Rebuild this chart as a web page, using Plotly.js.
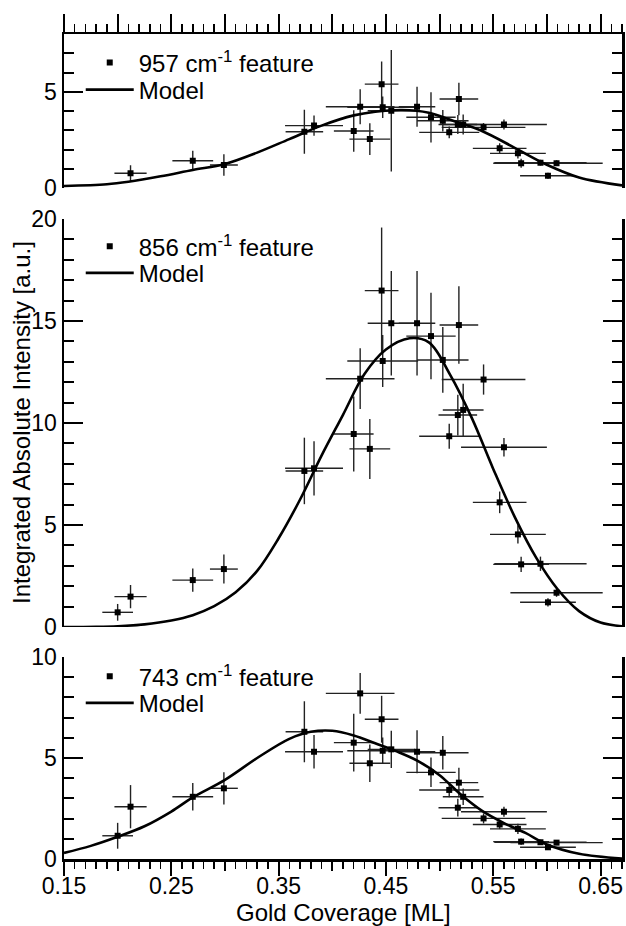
<!DOCTYPE html>
<html>
<head>
<meta charset="utf-8">
<script src="https://cdn.plot.ly/plotly-3.0.1.min.js"></script>
<style>html,body{margin:0;padding:0;background:#fff;}#chart{width:626px;height:926px;}</style>
</head>
<body>
<div id="chart"></div>
<script>
// ---------- data: 957 cm-1 feature (top panel) ----------
var x957 = [0.212, 0.270, 0.299, 0.374, 0.383, 0.420, 0.426, 0.435, 0.446, 0.447, 0.455, 0.479, 0.492, 0.503, 0.509, 0.518, 0.517, 0.522, 0.541, 0.556, 0.560, 0.573, 0.576, 0.594, 0.601, 0.609];
var xerr957 = [0.015, 0.019, 0.013, 0.0175, 0.027, 0.0185, 0.032, 0.019, 0.0157, 0.033, 0.022, 0.017, 0.023, 0.024, 0.028, 0.018, 0.018, 0.019, 0.039, 0.025, 0.040, 0.026, 0.026, 0.043, 0.026, 0.043];
var y957 = [0.78, 1.43, 1.21, 2.93, 3.25, 2.97, 4.23, 2.55, 5.40, 4.20, 4.02, 4.23, 3.68, 3.50, 2.90, 4.63, 3.31, 3.31, 3.16, 2.07, 3.31, 1.81, 1.30, 1.33, 0.65, 1.30];
var yerr957 = [0.41, 0.52, 0.56, 1.14, 0.52, 1.08, 0.91, 0.82, 1.17, 0.56, 3.15, 1.04, 1.30, 0.56, 0.30, 0.84, 0.49, 0.52, 0.22, 0.26, 0.26, 0.26, 0.23, 0.15, 0.15, 0.15];
var model957X = [0.15, 0.19, 0.21, 0.24, 0.27, 0.30, 0.33, 0.36, 0.39, 0.42, 0.44, 0.465, 0.49, 0.51, 0.54, 0.57, 0.60, 0.63, 0.67];
var model957Y = [0.12, 0.21, 0.34, 0.62, 0.95, 1.26, 1.85, 2.55, 3.25, 3.78, 3.97, 4.06, 3.92, 3.55, 2.96, 2.10, 1.22, 0.56, 0.15];

// ---------- data: 856 cm-1 feature (middle panel) ----------
var x856 = [0.200, 0.212, 0.270, 0.299, 0.374, 0.383, 0.420, 0.426, 0.435, 0.446, 0.447, 0.455, 0.479, 0.492, 0.503, 0.509, 0.518, 0.517, 0.522, 0.541, 0.556, 0.560, 0.573, 0.576, 0.594, 0.601, 0.609];
var xerr856 = [0.0143, 0.015, 0.019, 0.013, 0.0175, 0.027, 0.0185, 0.032, 0.019, 0.0157, 0.033, 0.022, 0.017, 0.023, 0.024, 0.028, 0.018, 0.018, 0.019, 0.039, 0.025, 0.040, 0.026, 0.026, 0.043, 0.026, 0.043];
var y856 = [0.72, 1.49, 2.30, 2.84, 7.65, 7.78, 9.46, 12.17, 8.73, 16.49, 13.04, 14.89, 14.89, 14.26, 13.09, 9.35, 14.80, 10.39, 10.64, 12.13, 6.11, 8.81, 4.54, 3.07, 3.10, 1.21, 1.68];
var yerr856 = [0.41, 0.57, 0.57, 0.71, 1.63, 1.33, 1.84, 1.49, 1.47, 3.09, 1.27, 2.56, 2.56, 2.12, 1.61, 0.61, 1.90, 1.00, 1.28, 0.74, 0.53, 0.45, 0.45, 0.37, 0.35, 0.20, 0.20];
var model856X = [0.15, 0.18, 0.20, 0.225, 0.25, 0.27, 0.29, 0.31, 0.33, 0.35, 0.37, 0.39, 0.41, 0.43, 0.45, 0.472, 0.49, 0.51, 0.53, 0.55, 0.57, 0.59, 0.61, 0.63, 0.65, 0.67];
var model856Y = [0.0, 0.01, 0.04, 0.13, 0.32, 0.58, 1.02, 1.70, 2.75, 4.35, 6.25, 8.40, 10.40, 12.40, 13.60, 14.15, 13.95, 12.35, 10.25, 7.75, 5.40, 3.40, 1.85, 0.78, 0.22, 0.04];

// ---------- data: 743 cm-1 feature (bottom panel) ----------
var x743 = [0.200, 0.212, 0.270, 0.299, 0.374, 0.383, 0.420, 0.426, 0.435, 0.446, 0.447, 0.455, 0.479, 0.492, 0.503, 0.509, 0.518, 0.517, 0.522, 0.541, 0.556, 0.560, 0.573, 0.576, 0.594, 0.601, 0.609];
var xerr743 = [0.0143, 0.015, 0.019, 0.013, 0.0175, 0.027, 0.0185, 0.032, 0.019, 0.0157, 0.033, 0.022, 0.017, 0.023, 0.024, 0.028, 0.018, 0.018, 0.019, 0.039, 0.025, 0.040, 0.026, 0.026, 0.043, 0.026, 0.043];
var y743 = [1.15, 2.59, 3.08, 3.50, 6.30, 5.31, 5.76, 8.20, 4.74, 6.92, 5.36, 5.43, 5.31, 4.29, 5.26, 3.42, 3.78, 2.54, 3.08, 2.01, 1.71, 2.34, 1.49, 0.86, 0.83, 0.58, 0.81];
var yerr743 = [0.64, 1.07, 0.68, 0.80, 1.51, 0.83, 1.43, 1.01, 0.93, 1.16, 0.66, 0.92, 1.07, 0.73, 0.83, 0.36, 0.74, 0.44, 0.41, 0.25, 0.23, 0.25, 0.25, 0.15, 0.12, 0.12, 0.12];
var model743X = [0.15, 0.175, 0.20, 0.225, 0.25, 0.27, 0.30, 0.33, 0.36, 0.38, 0.40, 0.42, 0.44, 0.46, 0.48, 0.50, 0.52, 0.54, 0.56, 0.58, 0.60, 0.63, 0.67];
var model743Y = [0.30, 0.65, 1.10, 1.62, 2.35, 3.05, 3.92, 5.00, 5.95, 6.30, 6.35, 6.12, 5.73, 5.33, 4.85, 4.15, 3.18, 2.37, 1.78, 1.29, 0.72, 0.26, 0.02];

// ---------- labels ----------
var legendData = ['957 cm<sup>-1</sup> feature', '856 cm<sup>-1</sup> feature', '743 cm<sup>-1</sup> feature'];
var modelLabel = 'Model';
var xTitle = 'Gold Coverage [ML]';
var yTitle = 'Integrated Absolute Intensity [a.u.]';
var xRange = [0.15, 0.67];

var FONT = 'Liberation Sans, Arial, Helvetica, sans-serif';
var errStyle = {type: 'data', visible: true, color: '#222', thickness: 1.4, width: 0};

function dataTrace(x, xe, y, ye, name, xa, ya, lg) {
  return {
    type: 'scatter', mode: 'markers', x: x, y: y, name: name,
    xaxis: xa, yaxis: ya, legend: lg,
    marker: {symbol: 'square', size: 6, color: '#000'},
    error_x: Object.assign({array: xe}, errStyle),
    error_y: Object.assign({array: ye}, errStyle)
  };
}
function modelTrace(x, y, xa, ya, lg) {
  return {
    type: 'scatter', mode: 'lines', x: x, y: y, name: modelLabel,
    xaxis: xa, yaxis: ya, legend: lg,
    line: {color: '#000', width: 2.6, shape: 'spline', smoothing: 1}
  };
}

var traces = [
  dataTrace(x957, xerr957, y957, yerr957, legendData[0], 'x', 'y', 'legend'),
  modelTrace(model957X, model957Y, 'x', 'y', 'legend2'),
  dataTrace(x856, xerr856, y856, yerr856, legendData[1], 'x2', 'y2', 'legend3'),
  modelTrace(model856X, model856Y, 'x2', 'y2', 'legend4'),
  dataTrace(x743, xerr743, y743, yerr743, legendData[2], 'x3', 'y3', 'legend5'),
  modelTrace(model743X, model743Y, 'x3', 'y3', 'legend6'),
  {type: 'scatter', mode: 'markers', x: [], y: [], xaxis: 'x4', yaxis: 'y3', showlegend: false, hoverinfo: 'skip'}
];

function yAxis(domain, anchor, range, extra) {
  return Object.assign({
    domain: domain, anchor: anchor, range: range,
    tick0: 0, dtick: 5, ticks: 'inside', ticklen: 19, tickwidth: 2.5, tickcolor: '#000',
    minor: {dtick: 1, ticks: 'inside', ticklen: 10, tickwidth: 2, tickcolor: '#000'},
    showline: true, linewidth: 2.5, linecolor: '#000', mirror: 'ticks',
    showgrid: false, zeroline: false,
    tickfont: {family: FONT, size: 23, color: '#000'}
  }, extra || {});
}

function leg(py) {
  return {
    x: 0.03, y: (859 - py) / 825, xanchor: 'left', yanchor: 'middle', bgcolor: 'rgba(0,0,0,0)',
    borderwidth: 0, itemwidth: 48, tracegroupgap: 0,
    font: {family: FONT, size: 24, color: '#000'}
  };
}

var layout = {
  width: 626, height: 926,
  margin: {l: 64, r: 4, t: 34, b: 67, pad: 0},
  paper_bgcolor: '#fff', plot_bgcolor: '#fff',
  font: {family: FONT, size: 22, color: '#000'},
  showlegend: true,
  xaxis: {
    domain: [0, 1], anchor: 'y', side: 'top', range: xRange,
    showline: true, linewidth: 2.5, linecolor: '#000',
    ticks: 'outside', tick0: 0.15, dtick: 0.05, ticklen: 18, tickwidth: 2, tickcolor: '#000',
    minor: {dtick: 0.01, ticks: 'outside', ticklen: 8, tickwidth: 1.5, tickcolor: '#000'},
    showticklabels: false, showgrid: false, zeroline: false
  },
  xaxis2: {domain: [0, 1], anchor: 'y2', range: xRange, visible: false},
  xaxis3: {
    domain: [0, 1], anchor: 'y3', side: 'bottom', range: xRange,
    showline: true, linewidth: 2.5, linecolor: '#000',
    ticks: 'outside', tick0: 0.15, dtick: 0.1, ticklen: 14, tickwidth: 2, tickcolor: '#000',
    minor: {dtick: 0.01, ticks: 'outside', ticklen: 7, tickwidth: 1.5, tickcolor: '#000'},
    tickformat: '.2f', showgrid: false, zeroline: false, ticklabelstandoff: -9,
    tickfont: {family: FONT, size: 23, color: '#000'}
  },
  xaxis4: {
    overlaying: 'x3', anchor: 'y3', side: 'bottom', range: xRange,
    ticks: 'outside', tick0: 0.2, dtick: 0.1, ticklen: 11, tickwidth: 2, tickcolor: '#000',
    showticklabels: false, showline: false, showgrid: false, zeroline: false
  },
  yaxis: yAxis([0.813, 1], 'x', [0, 8]),
  yaxis2: yAxis([0.2812, 0.7758], 'x2', [0, 20]),
  yaxis3: yAxis([0, 0.2448], 'x3', [0, 10]),
  legend: leg(63),
  legend2: leg(90),
  legend3: leg(246.7),
  legend4: leg(273.3),
  legend5: leg(676.7),
  legend6: leg(703.3),
  annotations: [
    {text: xTitle, xref: 'paper', yref: 'paper', x: 0.5, y: (859 - 912) / 825,
     xanchor: 'center', yanchor: 'middle', showarrow: false,
     font: {family: FONT, size: 24, color: '#000'}},
    {text: yTitle, xref: 'paper', yref: 'paper', x: (22 - 64) / 558, y: 0.5285,
     xanchor: 'center', yanchor: 'middle', showarrow: false, textangle: -90,
     font: {family: FONT, size: 24, color: '#000'}}
  ]
};

Plotly.newPlot('chart', traces, layout, {staticPlot: true, displayModeBar: false});
</script>
</body>
</html>
